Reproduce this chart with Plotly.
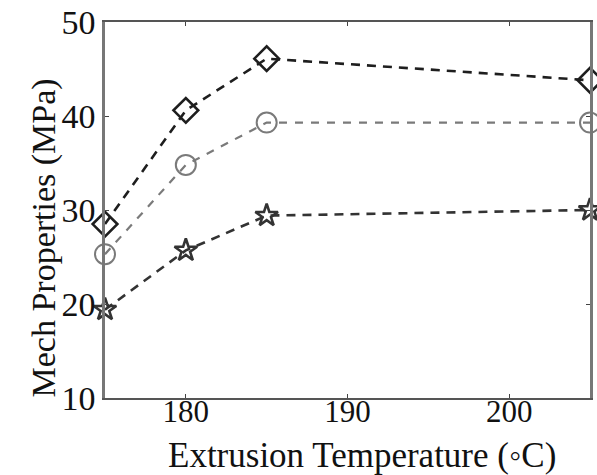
import plotly.graph_objects as go

temps = [175, 180, 185, 205]
diamond_vals = [28.5, 40.6, 46.1, 43.8]
circle_vals = [25.3, 34.8, 39.3, 39.3]
star_vals = [19.4, 25.7, 29.4, 30.0]

x_ticks = [180, 190, 200]
y_ticks = [10, 20, 30, 40, 50]

FONT = "Liberation Serif, Times New Roman, serif"

fig = go.Figure()

fig.add_trace(go.Scatter(
    x=temps, y=diamond_vals, mode="lines+markers", cliponaxis=False,
    line=dict(color="#1e1e1e", width=2.6, dash="9px,7px"),
    marker=dict(symbol="diamond-open", size=19, color="#1e1e1e", line=dict(width=2.6)),
    showlegend=False))

fig.add_trace(go.Scatter(
    x=temps, y=circle_vals, mode="lines+markers", cliponaxis=False,
    line=dict(color="#7a7a7a", width=2.2, dash="8px,8px"),
    marker=dict(symbol="circle-open", size=20, color="#7a7a7a", line=dict(width=2)),
    showlegend=False))

fig.add_trace(go.Scatter(
    x=temps, y=star_vals, mode="lines+markers", cliponaxis=False,
    line=dict(color="#333333", width=2.6, dash="9px,7px"),
    marker=dict(symbol="star-open", size=17, color="#333333", line=dict(width=2.6)),
    showlegend=False))

# invisible trace that carries the tick-label axis
fig.add_trace(go.Scatter(
    x=temps, y=star_vals, xaxis="x2", mode="markers",
    marker=dict(opacity=0), hoverinfo="skip", showlegend=False))

fig.update_layout(
    width=597, height=475,
    margin=dict(l=105, r=4, t=22, b=77),
    paper_bgcolor="white", plot_bgcolor="white",
    font=dict(family=FONT, color="#111111"),
    xaxis=dict(
        range=[175, 205], tickvals=x_ticks, showticklabels=False,
        ticks="inside", ticklen=4, tickcolor="#444", mirror="ticks",
        showline=True, linecolor="#555", linewidth=2,
        showgrid=False, zeroline=False,
    ),
    xaxis2=dict(
        overlaying="x", anchor="free", position=8 / 376,
        range=[175, 205], tickvals=x_ticks, showline=False, ticks="",
        showgrid=False, zeroline=False, side="bottom",
        tickfont=dict(size=31, family=FONT, color="#111"),
    ),
    yaxis=dict(
        range=[10, 50], tickvals=y_ticks,
        ticks="inside", ticklen=4, tickcolor="#444", mirror="ticks",
        showline=True, linecolor="#777", linewidth=2.5,
        showgrid=False, zeroline=False,
        tickfont=dict(size=34, family=FONT, color="#111"),
    ),
)

fig.add_annotation(
    text="Extrusion Temperature (◦C)", xref="paper", yref="paper",
    x=(364 - 105) / 488, y=(398 - 476) / 376, xanchor="center", yanchor="bottom",
    showarrow=False, borderpad=0, font=dict(size=35, family=FONT, color="#111"))

fig.add_annotation(
    text="Mech Properties (MPa)", xref="paper", yref="paper", textangle=-90,
    x=(23 - 105) / 488, y=(398 - 238) / 376, xanchor="left", yanchor="middle",
    showarrow=False, borderpad=0, font=dict(size=34, family=FONT, color="#111"))

fig.write_html("out.html")
